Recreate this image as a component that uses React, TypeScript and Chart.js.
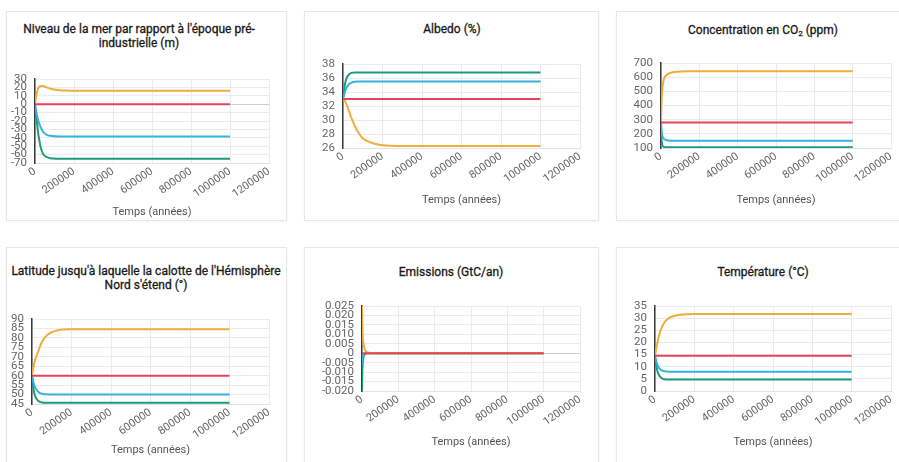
import React, { useEffect, useRef } from "react";
import { Chart, registerables } from "chart.js";

Chart.register(...registerables);

// ---------- DATA ----------
const TIMES = [0, 2000, 5000, 10000, 15000, 20000, 30000, 40000, 50000, 60000, 80000, 100000, 130000, 160000, 200000, 300000, 500000, 1000000];
const X_TICKS = [0, 200000, 400000, 600000, 800000, 1000000, 1200000];
const X_TITLE = "Temps (années)";

// Sea level (m)
const SEA_Y_TICKS = [-70, -60, -50, -40, -30, -20, -10, 0, 10, 20, 30];
const SEA_RED = [0, 0, 0, 0, 0, 0, 0, 0, 0, 0, 0, 0, 0, 0, 0, 0, 0, 0];
const SEA_ORANGE = [0, 3, 8, 14, 18, 20.5, 21.8, 21.8, 21, 20, 18.5, 17.5, 16.6, 16.2, 16, 16, 16, 16];
const SEA_BLUE = [0, -3, -7, -13, -18, -22, -28, -32.5, -35, -36.5, -37.6, -38.2, -38.4, -38.4, -38.4, -38.4, -38.4, -38.4];
const SEA_GREEN = [0, -5, -12, -22, -32, -40, -52, -58.5, -61.5, -63, -64.3, -64.8, -65, -65, -65, -65, -65, -65];

// Albedo (%)
const ALB_Y_TICKS = [26, 28, 30, 32, 34, 36, 38];
const ALB_RED = [33, 33, 33, 33, 33, 33, 33, 33, 33, 33, 33, 33, 33, 33, 33, 33, 33, 33];
const ALB_ORANGE = [33, 32.95, 32.85, 32.7, 32.4, 32.1, 31.3, 30.5, 29.8, 29.1, 28.1, 27.4, 26.9, 26.6, 26.4, 26.3, 26.3, 26.3];
const ALB_BLUE = [33, 33.2, 33.5, 34.0, 34.4, 34.7, 35.1, 35.3, 35.4, 35.45, 35.5, 35.5, 35.5, 35.5, 35.5, 35.5, 35.5, 35.5];
const ALB_GREEN = [33, 33.5, 34.2, 35.1, 35.7, 36.1, 36.5, 36.7, 36.75, 36.8, 36.8, 36.8, 36.8, 36.8, 36.8, 36.8, 36.8, 36.8];

// CO2 (ppm)
const CO2_Y_TICKS = [100, 200, 300, 400, 500, 600, 700];
const CO2_RED = [280, 280, 280, 280, 280, 280, 280, 280, 280, 280, 280, 280, 280, 280, 280, 280, 280, 280];
const CO2_ORANGE = [280, 380, 480, 550, 585, 600, 615, 625, 630, 634, 638, 640, 641, 642, 642, 642, 642, 642];
const CO2_BLUE = [280, 230, 195, 175, 165, 160, 155, 153, 152, 152, 152, 152, 152, 152, 152, 152, 152, 152];
const CO2_GREEN = [280, 180, 130, 112, 108, 106, 105, 105, 105, 105, 105, 105, 105, 105, 105, 105, 105, 105];

// Latitude (°)
const LAT_Y_TICKS = [45, 50, 55, 60, 65, 70, 75, 80, 85, 90];
const LAT_RED = [60, 60, 60, 60, 60, 60, 60, 60, 60, 60, 60, 60, 60, 60, 60, 60, 60, 60];
const LAT_ORANGE = [60, 61.5, 63.5, 66, 68, 69.5, 72.5, 75.5, 77.8, 79.5, 81.8, 83, 84, 84.4, 84.6, 84.6, 84.6, 84.6];
const LAT_BLUE = [60, 59, 57.5, 55.5, 54, 53, 51.6, 50.8, 50.4, 50.2, 50.1, 50, 50, 50, 50, 50, 50, 50];
const LAT_GREEN = [60, 58, 55, 51.5, 49.5, 48.2, 46.8, 46.1, 45.8, 45.7, 45.6, 45.6, 45.6, 45.6, 45.6, 45.6, 45.6, 45.6];

// Emissions (GtC/an)
const EMI_Y_TICKS = [-0.02, -0.015, -0.01, -0.005, 0, 0.005, 0.01, 0.015, 0.02, 0.025];
const EMI_Y_LABELS = ["-0.020", "-0.015", "-0.010", "-0.005", "0", "0.005", "0.010", "0.015", "0.020", "0.025"];
const EMI_RED = [0, 0, 0, 0, 0, 0, 0, 0, 0, 0, 0, 0, 0, 0, 0, 0, 0, 0];
const EMI_ORANGE = [0.025, 0.015, 0.008, 0.004, 0.002, 0.0012, 0.0005, 0.0002, 0.0001, 0, 0, 0, 0, 0, 0, 0, 0, 0];
const EMI_BLUE = [-0.006, -0.003, -0.0015, -0.0006, -0.0002, 0, 0, 0, 0, 0, 0, 0, 0, 0, 0, 0, 0, 0];
const EMI_GREEN = [-0.02, -0.009, -0.004, -0.0015, -0.0006, -0.0002, 0, 0, 0, 0, 0, 0, 0, 0, 0, 0, 0, 0];

// Temperature (°C)
const TMP_Y_TICKS = [0, 5, 10, 15, 20, 25, 30, 35];
const TMP_RED = [14.5, 14.5, 14.5, 14.5, 14.5, 14.5, 14.5, 14.5, 14.5, 14.5, 14.5, 14.5, 14.5, 14.5, 14.5, 14.5, 14.5, 14.5];
const TMP_ORANGE = [14.5, 15.3, 16.8, 19, 21, 22.7, 25.3, 27.1, 28.4, 29.3, 30.4, 31, 31.4, 31.6, 31.7, 31.7, 31.7, 31.7];
const TMP_BLUE = [14.5, 13.8, 12.7, 11.3, 10.3, 9.6, 8.7, 8.3, 8.1, 8, 7.9, 7.9, 7.9, 7.9, 7.9, 7.9, 7.9, 7.9];
const TMP_GREEN = [14.5, 13.2, 11.3, 9, 7.5, 6.6, 5.5, 5.0, 4.8, 4.7, 4.7, 4.7, 4.7, 4.7, 4.7, 4.7, 4.7, 4.7];

// ---------- STYLE / LAYOUT ----------
const COLORS = { red: "#E8435A", orange: "#F0AC3C", blue: "#36B3DC", green: "#1E9A7C" };
const FONT = "Roboto, 'Noto Sans', sans-serif";

type PanelDef = {
  title: React.ReactNode;
  titleCx: number;
  titleTop: number;
  titleLH: number;
  yTicks: number[];
  yLabels?: string[];
  series: { red: number[]; orange: number[]; blue: number[]; green: number[] };
  box: { L: number; T: number; R: number; B: number; gap: number };
};

const PANELS: PanelDef[] = [
  {
    title: (<>Niveau de la mer par rapport à l'époque pré-<br />industrielle (m)</>),
    titleCx: 139, titleTop: 22, titleLH: 14,
    yTicks: SEA_Y_TICKS,
    series: { red: SEA_RED, orange: SEA_ORANGE, blue: SEA_BLUE, green: SEA_GREEN },
    box: { L: 35, T: 79, R: 269, B: 163, gap: 49 },
  },
  {
    title: <>Albedo (%)</>,
    titleCx: 452, titleTop: 22, titleLH: 14,
    yTicks: ALB_Y_TICKS,
    series: { red: ALB_RED, orange: ALB_ORANGE, blue: ALB_BLUE, green: ALB_GREEN },
    box: { L: 343, T: 64, R: 580, B: 148, gap: 52 },
  },
  {
    title: (<>Concentration en CO<sub style={{ fontSize: 8, lineHeight: 0, verticalAlign: -2 }}>2</sub> (ppm)</>),
    titleCx: 763, titleTop: 23, titleLH: 14,
    yTicks: CO2_Y_TICKS,
    series: { red: CO2_RED, orange: CO2_ORANGE, blue: CO2_BLUE, green: CO2_GREEN },
    box: { L: 661, T: 63, R: 891, B: 148, gap: 52 },
  },
  {
    title: (<>Latitude jusqu'à laquelle la calotte de l'Hémisphère<br />Nord s'étend (°)</>),
    titleCx: 146, titleTop: 265, titleLH: 13.5,
    yTicks: LAT_Y_TICKS,
    series: { red: LAT_RED, orange: LAT_ORANGE, blue: LAT_BLUE, green: LAT_GREEN },
    box: { L: 32, T: 319, R: 269, B: 404, gap: 46 },
  },
  {
    title: <>Emissions (GtC/an)</>,
    titleCx: 451, titleTop: 265, titleLH: 14,
    yTicks: EMI_Y_TICKS, yLabels: EMI_Y_LABELS,
    series: { red: EMI_RED, orange: EMI_ORANGE, blue: EMI_BLUE, green: EMI_GREEN },
    box: { L: 362, T: 306, R: 580, B: 391, gap: 51 },
  },
  {
    title: <>Température (°C)</>,
    titleCx: 763, titleTop: 265, titleLH: 14,
    yTicks: TMP_Y_TICKS,
    series: { red: TMP_RED, orange: TMP_ORANGE, blue: TMP_BLUE, green: TMP_GREEN },
    box: { L: 655, T: 306, R: 891, B: 391, gap: 51 },
  },
];

const CARDS = [
  { x: 6, y: 11, w: 281, h: 210 },
  { x: 304, y: 11, w: 295, h: 210 },
  { x: 616, y: 11, w: 300, h: 210 },
  { x: 6, y: 247, w: 281, h: 240 },
  { x: 304, y: 247, w: 295, h: 240 },
  { x: 616, y: 247, w: 300, h: 240 },
];

const PAD_L = 10, Y_W = 40, PAD_T = 20, PAD_R = 25, PAD_B = 10;

function Panel({ p }: { p: PanelDef }) {
  const ref = useRef<HTMLCanvasElement>(null);
  const { L, T, R, B, gap } = p.box;
  const xh = gap + 7;
  const W = R - L + PAD_L + Y_W + PAD_R;
  const H = B - T + PAD_T + xh + PAD_B;

  useEffect(() => {
    const canvas = ref.current!;
    canvas.width = W;
    canvas.height = H;
    const order: (keyof PanelDef["series"])[] = ["red", "orange", "blue", "green"];
    const yt = p.yTicks;
    const chart = new Chart(canvas, {
      type: "line",
      data: {
        datasets: order.map((k) => ({
          label: k,
          data: TIMES.map((t, i) => ({ x: t, y: p.series[k][i] })),
          borderColor: COLORS[k],
          backgroundColor: COLORS[k],
          borderWidth: 2,
          pointRadius: 0,
          fill: false,
          cubicInterpolationMode: "monotone" as const,
        })),
      },
      options: {
        responsive: false,
        animation: false,
        devicePixelRatio: 1,
        layout: { padding: { left: PAD_L, top: PAD_T, right: PAD_R, bottom: PAD_B } },
        plugins: { legend: { display: false }, tooltip: { enabled: false }, title: { display: false } },
        scales: {
          x: {
            type: "linear",
            min: X_TICKS[0],
            max: X_TICKS[X_TICKS.length - 1],
            afterBuildTicks: (s: any) => { s.ticks = X_TICKS.map((v) => ({ value: v })); },
            afterFit: (s: any) => { s.height = xh; },
            ticks: {
              autoSkip: false,
              minRotation: 35,
              maxRotation: 35,
              padding: 2,
              color: "#666",
              font: { family: FONT, size: 11 },
              callback: (v: any) => String(v),
            },
            grid: { color: "#ebebeb", drawTicks: false },
            border: { color: "#e2e2e2" },
            title: { display: true, text: X_TITLE, color: "#555", font: { family: FONT, size: 11 }, padding: 0 },
          },
          y: {
            type: "linear",
            min: yt[0],
            max: yt[yt.length - 1],
            afterBuildTicks: (s: any) => { s.ticks = yt.map((v) => ({ value: v })); },
            afterFit: (s: any) => { s.width = Y_W; },
            ticks: {
              autoSkip: false,
              padding: 8,
              color: "#666",
              font: { family: FONT, size: 11.5 },
              callback: (v: any, i: number) => (p.yLabels ? p.yLabels[i] : String(yt[i])),
            },
            grid: {
              color: (ctx: any) => (ctx.tick && ctx.tick.value === 0 ? "#cfcfcf" : "#ebebeb"),
              drawTicks: false,
            },
            border: { color: "#3a3a3a", width: 1.5 },
          },
        },
      },
    });
    return () => chart.destroy();
  }, []);

  return (
    <canvas
      ref={ref}
      style={{ position: "absolute", left: L - PAD_L - Y_W, top: T - PAD_T, width: W, height: H }}
    />
  );
}

export default function App() {
  return (
    <div
      style={{
        position: "absolute",
        left: 0,
        top: 0,
        width: 899,
        height: 462,
        overflow: "hidden",
        background: "#fff",
        fontFamily: FONT,
      }}
    >
      {CARDS.map((c, i) => (
        <div
          key={"c" + i}
          style={{
            position: "absolute",
            left: c.x,
            top: c.y,
            width: c.w,
            height: c.h,
            border: "1px solid #e6e6e6",
            boxShadow: "0 1px 2px rgba(0,0,0,0.04)",
            boxSizing: "border-box",
            background: "#fff",
          }}
        />
      ))}
      {PANELS.map((p, i) => (
        <div
          key={"t" + i}
          style={{
            position: "absolute",
            left: p.titleCx - 160,
            top: p.titleTop,
            width: 320,
            textAlign: "center",
            fontSize: 12,
            fontWeight: 400,
            lineHeight: p.titleLH + "px",
            color: "#1a1a1a",
            WebkitTextStroke: "0.3px #1a1a1a",
            whiteSpace: "nowrap",
          }}
        >
          {p.title}
        </div>
      ))}
      {PANELS.map((p, i) => (
        <Panel key={"p" + i} p={p} />
      ))}
    </div>
  );
}
